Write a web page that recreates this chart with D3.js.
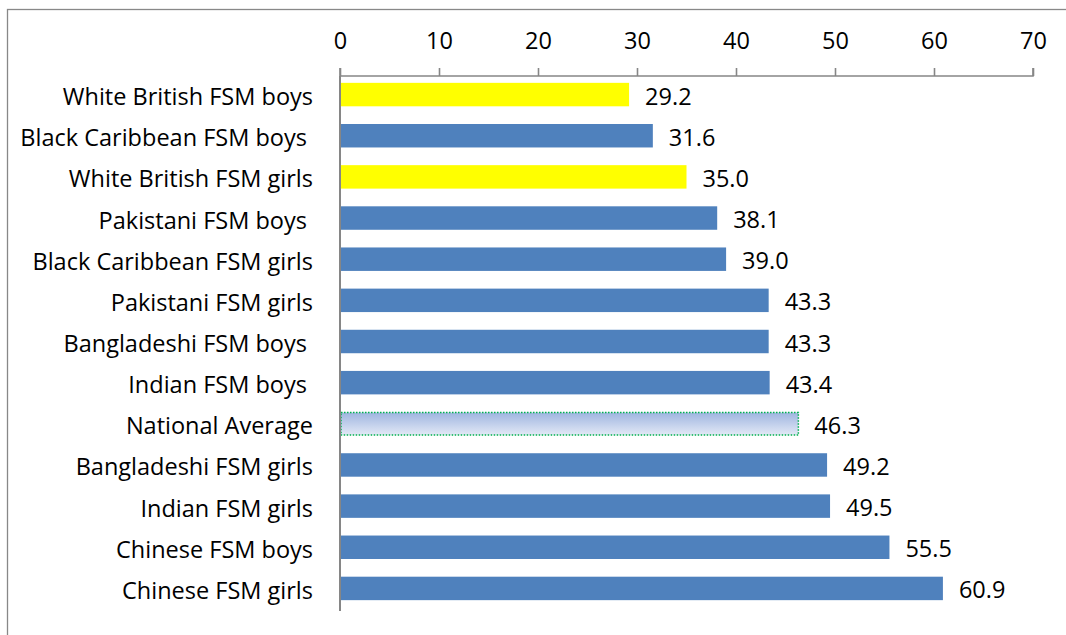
<!DOCTYPE html>
<html><head><meta charset="utf-8">
<script src="https://cdn.jsdelivr.net/npm/d3@7"></script>
<style>
html,body{margin:0;padding:0;background:#fff;}
svg{display:block;}
text{font-family:"Open Sans","Noto Sans",sans-serif;fill:#000;}
</style></head>
<body>
<svg id="chart" width="1066" height="635"></svg>
<script>
const categories = ["White British FSM boys","Black Caribbean FSM boys ","White British FSM girls","Pakistani FSM boys ","Black Caribbean FSM girls","Pakistani FSM girls","Bangladeshi FSM boys ","Indian FSM boys ","National Average","Bangladeshi FSM girls","Indian FSM girls","Chinese FSM boys","Chinese FSM girls"];
const values = [29.2,31.6,35.0,38.1,39.0,43.3,43.3,43.4,46.3,49.2,49.5,55.5,60.9];
const kinds = ["yellow","blue","yellow","blue","blue","blue","blue","blue","average","blue","blue","blue","blue"];
const tickValues = [0,10,20,30,40,50,60,70];

const svg = d3.select("#chart");
const x = d3.scaleLinear().domain([0,70]).range([340,1033]);
const y = d3.scaleBand().domain(categories).range([74,609]).paddingInner(0.43).paddingOuter(0.215);

// outer frame (clipped on right/bottom)
svg.append("rect").attr("x",7.5).attr("y",9.5).attr("width",1200).attr("height",800)
  .attr("fill","none").attr("stroke","#888").attr("stroke-width",1.3);

const defs = svg.append("defs");
const g = defs.append("linearGradient").attr("id","avgGrad").attr("x1",0).attr("y1",0).attr("x2",0).attr("y2",1);
g.append("stop").attr("offset","0%").attr("stop-color","#9fb5e0");
g.append("stop").attr("offset","100%").attr("stop-color","#e3e9f6");

const fontSize = 23.5;

// top axis
const axis = svg.append("g").attr("transform","translate(0,76)")
  .call(d3.axisTop(x).tickValues(tickValues).tickSize(8).tickPadding(19).tickFormat(d3.format("d")));
axis.selectAll("path,line").attr("stroke","#868686").attr("stroke-width",1.6);
axis.select(".domain").attr("d","M340,-8V0H1033V-8");
axis.selectAll("text").attr("font-size",fontSize).attr("font-family","'Open Sans','Noto Sans',sans-serif").attr("fill","#000");

// bars
svg.append("g").selectAll("rect").data(values).join("rect")
  .attr("x",x(0)+1)
  .attr("y",(d,i)=>y(categories[i]) + (kinds[i]==="average"?0.5:0))
  .attr("width",(d,i)=>x(d)-x(0)-1)
  .attr("height",(d,i)=>y.bandwidth() - (kinds[i]==="average"?1:0))
  .attr("fill",(d,i)=>kinds[i]==="yellow"?"#ffff00":kinds[i]==="blue"?"#4f81bd":"url(#avgGrad)")
  .attr("stroke",(d,i)=>kinds[i]==="average"?"#00b050":"none")
  .attr("stroke-width",1.5)
  .attr("stroke-dasharray",(d,i)=>kinds[i]==="average"?"1.5,1.5":null);

// left axis line
svg.append("line").attr("x1",x(0)).attr("x2",x(0)).attr("y1",76).attr("y2",611)
  .attr("stroke","#868686").attr("stroke-width",2);

// category labels
svg.append("g").selectAll("text").data(categories).join("text")
  .attr("x",313).attr("y",d=>y(d)+y.bandwidth()/2+1.5)
  .attr("text-anchor","end").attr("dominant-baseline","central")
  .attr("font-size",fontSize).style("white-space","pre").attr("xml:space","preserve")
  .text(d=>d);

// value labels
svg.append("g").selectAll("text").data(values).join("text")
  .attr("x",d=>x(d)+16).attr("y",(d,i)=>y(categories[i])+y.bandwidth()/2+1)
  .attr("dominant-baseline","central")
  .attr("font-size",fontSize)
  .text(d=>d3.format(".1f")(d));
</script>
</body></html>
